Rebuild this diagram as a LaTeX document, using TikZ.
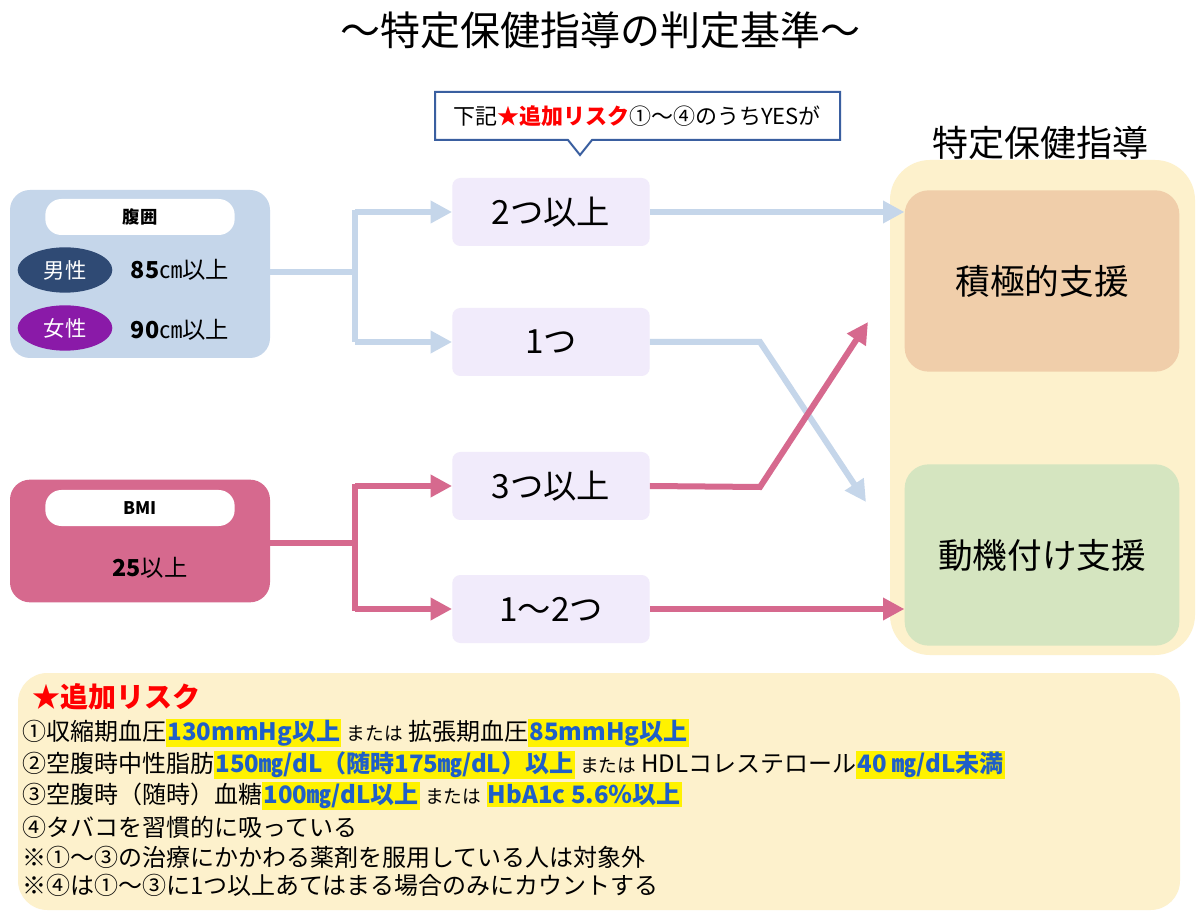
\documentclass[tikz,border=0pt]{standalone}
\usepackage{fontspec}
\setmainfont{Noto Sans CJK JP}
\usetikzlibrary{arrows.meta,shapes.geometric}
\definecolor{bluebox}{HTML}{C5D6EA}
\definecolor{pinkbox}{HTML}{D6698E}
\definecolor{yel}{HTML}{FDF1CC}
\definecolor{peach}{HTML}{F0CEAA}
\definecolor{greenb}{HTML}{D5E5C0}
\definecolor{lav}{HTML}{F1EBFB}
\definecolor{navy}{HTML}{2F4A74}
\definecolor{purp}{HTML}{8A1AA8}
\definecolor{hlblue}{HTML}{1F5FC8}
\definecolor{calloutb}{HTML}{3A5FA0}
\newcommand{\hlt}[1]{{\setlength{\fboxsep}{1pt}\colorbox{yellow}{\textcolor{hlblue}{\bfseries #1}}}}
\newcommand{\smallor}{{\fontsize{14}{16}\selectfont または}}
\begin{document}
\begin{tikzpicture}[x=0.75pt,y=-0.75pt,
  mid/.style={draw=none,fill=lav,rounded corners=6pt,minimum width=148pt,minimum height=51pt,font=\fontsize{25}{28}\selectfont},
  barr/.style={line width=4.5pt,draw=bluebox,-{Triangle[length=16pt,width=16pt]}},
  parr/.style={line width=4.5pt,draw=pinkbox,-{Triangle[length=16pt,width=16pt]}},
  bl/.style={line width=4.5pt,draw=bluebox},
  pl/.style={line width=4.5pt,draw=pinkbox},
  pill/.style={fill=white,rounded corners=12pt,minimum width=142pt,minimum height=27pt,font=\bfseries\fontsize{13}{15}\selectfont},
  bt/.style={anchor=west,font=\fontsize{18}{21}\selectfont,inner sep=0pt}]
\useasboundingbox (0,0) rectangle (1200,923);
\fill[white] (0,0) rectangle (1200,923);
\node (title) at (600,30) {\fontsize{30}{33}\selectfont ～特定保健指導の判定基準～};
% callout
\draw[calloutb,line width=1.5pt,fill=white] (435,92) -- (840,92) -- (840,140) -- (592,140) -- (580,155) -- (568,140) -- (435,140) -- cycle;
\node (callout) at (637,116) {\fontsize{16.5}{19}\selectfont 下記\textcolor{red}{\bfseries ★追加リスク}①～④のうちYESが};
% right panels
\fill[yel,rounded corners=30pt] (890,160) rectangle (1195,655);
\node (tokutei) at (1040,143) {\fontsize{27}{30}\selectfont 特定保健指導};
\node (sekkyoku) [fill=peach,rounded corners=18pt,minimum width=206pt,minimum height=136pt,font=\fontsize{26}{30}\selectfont] at (1042,281) {積極的支援};
\node (doki) [fill=greenb,rounded corners=18pt,minimum width=206pt,minimum height=136pt,font=\fontsize{26}{30}\selectfont] at (1042,555) {動機付け支援};
% left boxes
\node (fukui) [fill=bluebox,rounded corners=15pt,minimum width=195pt,minimum height=126pt] at (140,274) {};
\node (fukuilab) [pill] at (140,217) {腹囲};
\node (male) [ellipse,fill=navy,minimum width=71pt,minimum height=34pt,text=white,font=\fontsize{16}{19}\selectfont] at (65,270) {男性};
\node (male2) at (180,270) {\fontsize{17.5}{20}\selectfont\textbf{85}㎝以上};
\node (female) [ellipse,fill=purp,minimum width=71pt,minimum height=34pt,text=white,font=\fontsize{16}{19}\selectfont] at (65,328) {女性};
\node (female2) at (180,330) {\fontsize{17.5}{20}\selectfont\textbf{90}㎝以上};
\node (bmi) [fill=pinkbox,rounded corners=15pt,minimum width=195pt,minimum height=92pt] at (140,541) {};
\node (bmilab) [pill] at (140,508) {BMI};
\node (bmi2) at (150,568) {\fontsize{17.5}{20}\selectfont\textbf{25}以上};
% middle
\node (m1) [mid] at (551,212) {2つ以上};
\node (m2) [mid] at (551,342) {1つ};
\node (m3) [mid] at (551,486) {3つ以上};
\node (m4) [mid] at (551,609) {1～2つ};
\coordinate (bj) at (355,272);
\coordinate (pj) at (355,543);
\coordinate (bk) at (760,342);
\coordinate (pk) at (760,487);
% blue connectors
\draw[bl] (fukui.east |- bj) -- (bj);
\draw[bl] (355,210) -- (355,342);
\draw[barr] (355,212) -- (m1.west);
\draw[barr] (355,342) -- (m2.west);
\draw[barr] (m1.east) -- (sekkyoku.west |- m1.east);
\draw[barr] (m2.east) -- (bk) -- (866,502);
% pink connectors
\draw[pl] (bmi.east |- pj) -- (pj);
\draw[pl] (355,484) -- (355,611);
\draw[parr] (355,486) -- (m3.west);
\draw[parr] (355,609) -- (m4.west);
\draw[parr] (m3.east) -- (pk) -- (868,322);
\draw[parr] (m4.east) -- (sekkyoku.west |- m4.east);
% bottom
\fill[yel,rounded corners=22pt] (18,673) rectangle (1180,910);
\node (risk) [bt] at (32,697) {\fontsize{21}{24}\selectfont\textcolor{red}{\bfseries ★追加リスク}};
\node (r1) [bt] at (22,733) {①収縮期血圧\hlt{130mmHg以上} \smallor{} 拡張期血圧\hlt{85mmHg以上}};
\node (r2) [bt] at (22,765) {②空腹時中性脂肪\hlt{150㎎/dL（随時175㎎/dL）以上} \smallor{} HDLコレステロール\hlt{40 ㎎/dL未満}};
\node (r3) [bt] at (22,796) {③空腹時（随時）血糖\hlt{100㎎/dL以上} \smallor{} \hlt{HbA1c 5.6％以上}};
\node (r4) [bt] at (22,827) {④タバコを習慣的に吸っている};
\node (r5) [bt] at (22,857) {※①～③の治療にかかわる薬剤を服用している人は対象外};
\node (r6) [bt] at (22,885) {※④は①～③に1つ以上あてはまる場合のみにカウントする};
\end{tikzpicture}
\end{document}
